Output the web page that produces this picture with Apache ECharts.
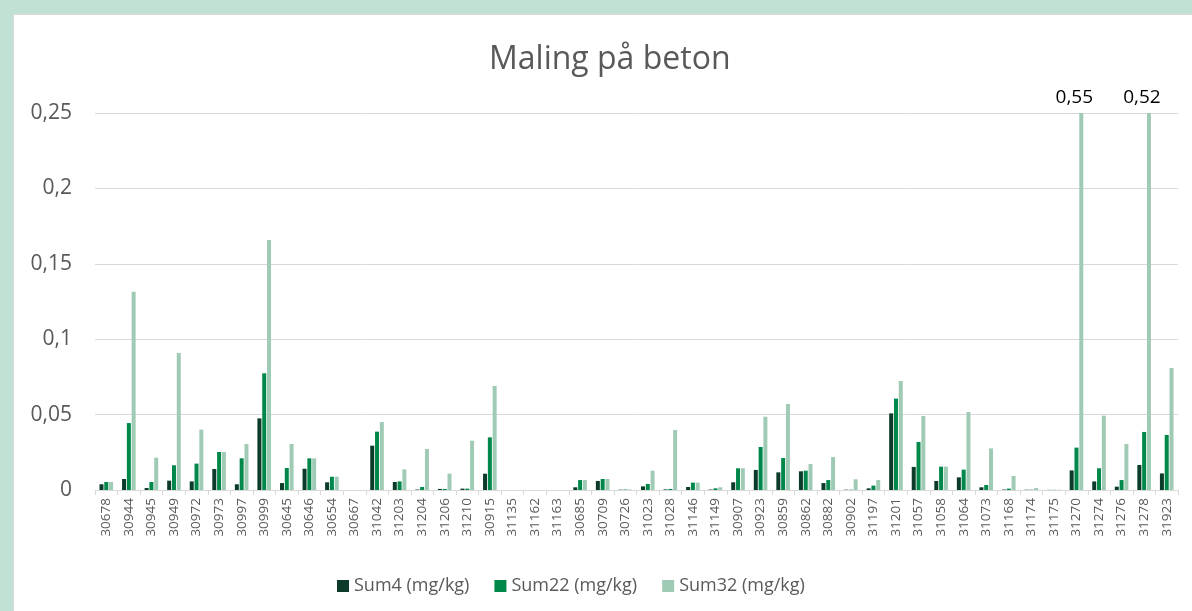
<!DOCTYPE html>
<html>
<head>
<meta charset="utf-8">
<script src="https://cdn.jsdelivr.net/npm/echarts@6/dist/echarts.min.js"></script>
<style>
  html, body { margin: 0; padding: 0; background: #c0e1d3; width: 1192px; height: 611px; overflow: hidden; }
  #panel { position: absolute; left: 13px; top: 14px; width: 1179px; height: 597px; background: #fff;
           border-left: 1px solid #d9d9d9; border-top: 1px solid #d9d9d9; box-sizing: border-box; }
  #chart { width: 1178px; height: 596px; }
</style>
</head>
<body>
<div id="panel"><div id="chart"></div></div>
<script>
// prøvesteder
const categories = ['30678','30944','30945','30949','30972','30973','30997','30999','30645','30646','30654','30667',
  '31042','31203','31204','31206','31210','30915','31135','31162','31163','30685','30709','30726','31023','31028',
  '31146','31149','30907','30923','30859','30862','30882','30902','31197','31201','31057','31058','31064','31073',
  '31168','31174','31175','31270','31274','31276','31278','31923'];

// Sum4 (mg/kg)
const sum4 = [0.0038,0.0073,0.0013,0.0062,0.0057,0.0139,0.0038,0.0475,0.0046,0.0141,0.0051,0,
  0.0294,0.0053,0.0003,0.0007,0.0009,0.0108,0,0,0,0.0018,0.006,0.0002,0.0024,0.0004,
  0.002,0.0003,0.0051,0.0133,0.0117,0.0124,0.0046,0.0002,0.0011,0.0508,0.0153,0.006,0.0084,0.0018,
  0.0003,0.0002,0.0001,0.013,0.0057,0.0022,0.0166,0.011];

// Sum22 (mg/kg)
const sum22 = [0.0053,0.0444,0.0053,0.0164,0.0175,0.0252,0.021,0.0774,0.0146,0.021,0.0088,0,
  0.0387,0.0057,0.002,0.0007,0.0009,0.0349,0,0,0,0.0066,0.0073,0.0003,0.004,0.0007,
  0.0049,0.0011,0.0144,0.0285,0.0212,0.0128,0.0066,0.0002,0.0029,0.0606,0.0318,0.0155,0.0135,0.0033,
  0.0009,0.0002,0.0001,0.0281,0.0144,0.0066,0.0385,0.0365];

// Sum32 (mg/kg)
const sum32 = [0.0053,0.1315,0.0214,0.0908,0.040,0.0252,0.0305,0.1658,0.0305,0.021,0.0088,0,
  0.0451,0.0137,0.0272,0.0108,0.0327,0.069,0,0,0,0.0066,0.0073,0.0003,0.0128,0.0398,
  0.0049,0.0018,0.0144,0.0486,0.057,0.0172,0.0219,0.0071,0.0066,0.0723,0.0491,0.0155,0.0517,0.0276,
  0.0093,0.0013,0.0002,0.55,0.0493,0.0305,0.52,0.0809];

const seriesNames = ['Sum4 (mg/kg)', 'Sum22 (mg/kg)', 'Sum32 (mg/kg)'];
const colors = ['#0c3b2a', '#00884a', '#9fcbb5'];

const yMax = 0.25;
const comma = v => String(v).replace('.', ',');

const chart = echarts.init(document.getElementById('chart'));

// verdier over aksen får etikett
const sum32Items = sum32.map(v => v > yMax ? {
  value: v,
  label: { show: true, position: 'top', distance: 6, offset: [-7, 0], formatter: p => comma(p.value),
           color: '#000', fontSize: 19, fontFamily: 'Open Sans' }
} : v);

const option = {
  textStyle: { fontFamily: 'Open Sans' },
  title: {
    text: 'Maling på beton',
    left: 470,
    top: 24,
    textStyle: { fontSize: 32, fontWeight: 'normal', color: '#595959', fontFamily: 'Open Sans' }
  },
  legend: {
    data: seriesNames,
    left: 318,
    top: 557,
    itemWidth: 12,
    itemHeight: 12,
    itemGap: 25,
    icon: 'rect',
    textStyle: { fontSize: 18, color: '#595959', fontFamily: 'Open Sans' }
  },
  grid: { left: 81, right: 14, top: 98, bottom: 121 },
  xAxis: {
    type: 'category',
    data: categories,
    axisLine: { lineStyle: { color: '#d9d9d9', width: 1 } },
    axisTick: { show: true, length: 5, lineStyle: { color: '#d9d9d9' } },
    axisLabel: { rotate: 90, interval: 0, fontSize: 13.5, color: '#595959', margin: 8 }
  },
  yAxis: {
    type: 'value',
    min: 0,
    max: yMax,
    interval: 0.05,
    axisLine: { show: false },
    axisTick: { show: false },
    splitLine: { lineStyle: { color: '#d9d9d9', width: 1 } },
    axisLabel: { fontSize: 21, color: '#595959', margin: 23, formatter: comma }
  },
  series: [
    { name: seriesNames[0], type: 'bar', data: sum4, barWidth: 4, barGap: '20%', itemStyle: { color: colors[0] } },
    { name: seriesNames[1], type: 'bar', data: sum22, barWidth: 4, barGap: '20%', itemStyle: { color: colors[1] } },
    { name: seriesNames[2], type: 'bar', data: sum32Items, barWidth: 4, barGap: '20%', itemStyle: { color: colors[2] } }
  ],
  animation: false
};

chart.setOption(option);
</script>
</body>
</html>
